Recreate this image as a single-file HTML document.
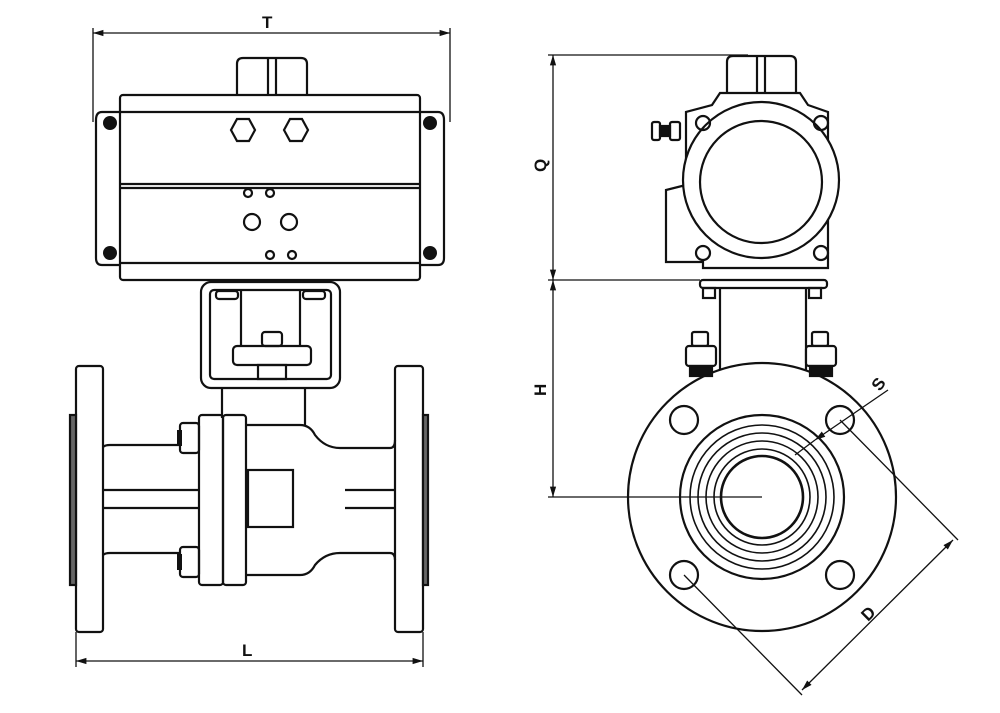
<!DOCTYPE html>
<html><head><style>html,body{margin:0;background:#fff}svg{display:block}</style></head><body>
<svg width="1000" height="713" viewBox="0 0 1000 713" xmlns="http://www.w3.org/2000/svg" fill="none" stroke="#111" stroke-width="2.2" font-family="Liberation Sans, sans-serif">
<defs><marker id="a" viewBox="0 0 10 10" refX="10" refY="5" markerWidth="8" markerHeight="8" orient="auto-start-reverse"><path d="M0,2 L10,5 L0,8z" fill="#111" stroke="none"/></marker></defs>
<line x1="93" y1="33" x2="450" y2="33" marker-start="url(#a)" marker-end="url(#a)" stroke-width="1.3"/>
<line x1="93" y1="28" x2="93" y2="122" stroke-width="1.3"/><line x1="450" y1="28" x2="450" y2="122" stroke-width="1.3"/>
<text x="262" y="28" font-size="17" fill="#111" stroke="none" font-weight="bold">T</text>
<path d="M237,95 V64 Q237,58 243,58 H301 Q307,58 307,64 V95"/><line x1="268" y1="58" x2="268" y2="95"/><line x1="276" y1="58" x2="276" y2="95"/>
<rect x="120" y="95" width="300" height="185" rx="3"/>
<line x1="120" y1="112" x2="420" y2="112"/><line x1="120" y1="184" x2="420" y2="184"/><line x1="120" y1="188" x2="420" y2="188"/><line x1="120" y1="263" x2="420" y2="263"/>
<path d="M120,112 H102 Q96,112 96,120 V258 Q96,265 102,265 H120"/>
<path d="M420,112 H438 Q444,112 444,120 V258 Q444,265 438,265 H420"/>
<g fill="#111" stroke="none"><circle cx="110" cy="123" r="7"/><circle cx="110" cy="253" r="7"/><circle cx="430" cy="123" r="7"/><circle cx="430" cy="253" r="7"/></g>
<polygon points="231,130 237,119 249,119 255,130 249,141 237,141"/><polygon points="284,130 290,119 302,119 308,130 302,141 290,141"/>
<circle cx="248" cy="193" r="4"/><circle cx="270" cy="193" r="4"/><circle cx="252" cy="222" r="8"/><circle cx="289" cy="222" r="8"/><circle cx="270" cy="255" r="4"/><circle cx="292" cy="255" r="4"/>
<rect x="201" y="282" width="139" height="106" rx="10"/><rect x="210" y="290" width="121" height="89" rx="4"/>
<line x1="241" y1="290" x2="241" y2="345"/><line x1="300" y1="290" x2="300" y2="345"/>
<rect x="216" y="291" width="22" height="8" rx="3"/><rect x="303" y="291" width="22" height="8" rx="3"/>
<rect x="233" y="346" width="78" height="19" rx="4"/><rect x="262" y="332" width="20" height="14" rx="3"/>
<rect x="258" y="365" width="28" height="14"/>
<line x1="222" y1="388" x2="222" y2="418"/><line x1="305" y1="388" x2="305" y2="425"/>
<rect x="76" y="366" width="27" height="266" rx="3"/><rect x="70" y="415" width="6" height="170" fill="#666"/>
<rect x="395" y="366" width="28" height="266" rx="3"/><rect x="423" y="415" width="5" height="170" fill="#666"/>
<path d="M103,447 Q105,445 110,445 H180"/><path d="M103,555 Q105,553 110,553 H180"/>
<line x1="103" y1="490" x2="199" y2="490"/><line x1="103" y1="508" x2="199" y2="508"/>
<line x1="345" y1="490" x2="395" y2="490"/><line x1="345" y1="508" x2="395" y2="508"/>
<path d="M245,425 H300 Q310,425 315,435 Q325,448 340,448 H390 Q395,448 395,440"/>
<path d="M245,575 H300 Q310,575 315,565 Q325,553 340,553 H390 Q395,553 395,560"/>
<rect x="199" y="415" width="24" height="170" rx="3"/><rect x="223" y="415" width="23" height="170" rx="3"/>
<rect x="248" y="470" width="45" height="57"/>
<rect x="180" y="423" width="19" height="30" rx="3"/><rect x="180" y="547" width="19" height="30" rx="3"/>
<g fill="#111" stroke="none"><rect x="177" y="430" width="5" height="16"/><rect x="177" y="554" width="5" height="16"/></g>
<line x1="76" y1="632" x2="76" y2="667" stroke-width="1.3"/><line x1="423" y1="632" x2="423" y2="667" stroke-width="1.3"/>
<line x1="76" y1="661" x2="423" y2="661" marker-start="url(#a)" marker-end="url(#a)" stroke-width="1.3"/>
<text x="242" y="656" font-size="17" fill="#111" stroke="none" font-weight="bold">L</text>
<line x1="548" y1="55" x2="748" y2="55" stroke-width="1.3"/><line x1="548" y1="280" x2="700" y2="280" stroke-width="1.3"/>
<line x1="553" y1="55" x2="553" y2="280" marker-start="url(#a)" marker-end="url(#a)" stroke-width="1.3"/>
<line x1="553" y1="280" x2="553" y2="497" marker-start="url(#a)" marker-end="url(#a)" stroke-width="1.3"/>
<text x="0" y="0" font-size="17" fill="#111" stroke="none" font-weight="bold" transform="translate(546,172) rotate(-90)">Q</text>
<text x="0" y="0" font-size="17" fill="#111" stroke="none" font-weight="bold" transform="translate(546,396) rotate(-90)">H</text>
<path d="M727,93 V62 Q727,56 733,56 H790 Q796,56 796,62 V93"/><line x1="757" y1="56" x2="757" y2="93"/><line x1="765" y1="56" x2="765" y2="93"/>
<path d="M720,93 H800 L808,105 L828,112 V268 H703 V262 H666 V190 L686,185 V112 L712,105z"/>
<circle cx="761" cy="180" r="78" fill="#fff"/><circle cx="761" cy="182" r="61"/>
<circle cx="703" cy="123" r="7"/><circle cx="821" cy="123" r="7"/><circle cx="703" cy="253" r="7"/><circle cx="821" cy="253" r="7"/>
<rect x="652" y="122" width="8" height="18" rx="2"/><rect x="660" y="126" width="10" height="10" fill="#111"/><rect x="670" y="122" width="10" height="18" rx="2"/>
<rect x="700" y="280" width="127" height="8" rx="3"/>
<line x1="720" y1="288" x2="720" y2="372"/><line x1="806" y1="288" x2="806" y2="372"/>
<rect x="703" y="288" width="12" height="10"/><rect x="809" y="288" width="12" height="10"/>
<circle cx="762" cy="497" r="134" fill="#fff"/>
<rect x="692" y="332" width="16" height="14" rx="2" fill="#fff"/><rect x="686" y="346" width="30" height="20" rx="3" fill="#fff"/><rect x="690" y="366" width="22" height="10" fill="#111"/>
<rect x="812" y="332" width="16" height="14" rx="2" fill="#fff"/><rect x="806" y="346" width="30" height="20" rx="3" fill="#fff"/><rect x="810" y="366" width="22" height="10" fill="#111"/>
<circle cx="762" cy="497" r="82"/><circle cx="762" cy="497" r="72" stroke-width="1.6"/><circle cx="762" cy="497" r="64" stroke-width="1.6"/><circle cx="762" cy="497" r="56" stroke-width="1.6"/><circle cx="762" cy="497" r="48" stroke-width="1.6"/>
<circle cx="762" cy="497" r="41" stroke-width="2.6"/>
<circle cx="684" cy="420" r="14"/><circle cx="840" cy="420" r="14"/><circle cx="684" cy="575" r="14"/><circle cx="840" cy="575" r="14"/>
<line x1="548" y1="497" x2="762" y2="497" stroke-width="1.3"/>
<line x1="815" y1="440" x2="888" y2="390" stroke-width="1.3" marker-start="url(#a)"/>
<line x1="795" y1="455" x2="815" y2="440" stroke-width="1.3"/>
<text x="0" y="0" font-size="17" fill="#111" stroke="none" font-weight="bold" transform="translate(880,392) rotate(-55)">S</text>
<line x1="840" y1="420" x2="958" y2="540" stroke-width="1.3"/><line x1="684" y1="575" x2="802" y2="695" stroke-width="1.3"/>
<line x1="802" y1="690" x2="953" y2="540" stroke-width="1.3" marker-start="url(#a)" marker-end="url(#a)"/>
<text x="0" y="0" font-size="17" fill="#111" stroke="none" font-weight="bold" transform="translate(868,622) rotate(-45)">D</text>
</svg>
</body></html>
